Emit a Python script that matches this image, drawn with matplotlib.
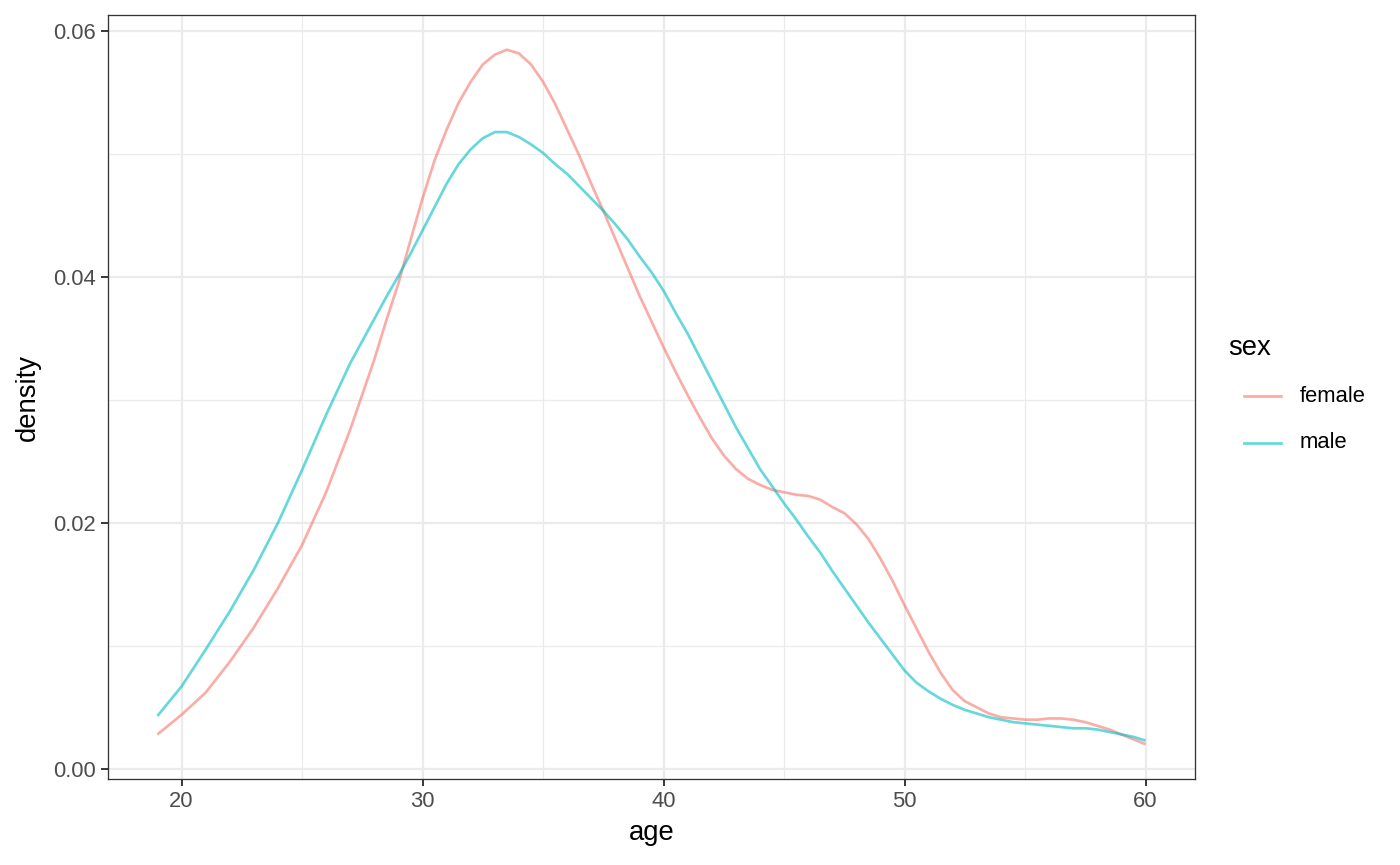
import matplotlib
matplotlib.use("Agg")
import matplotlib.pyplot as plt
from matplotlib.lines import Line2D

plt.rcParams['font.family'] = ['Liberation Sans', 'DejaVu Sans']

# ---- data ----
female_age = [19, 20, 21, 22, 23, 24, 25, 26, 27, 28, 28.5, 29, 29.5, 30, 30.5, 31, 31.5, 32, 32.5,
              33, 33.5, 34, 34.5, 35, 35.5, 36, 36.5, 37, 37.5, 38, 38.5, 39, 39.5, 40, 40.5, 41,
              41.5, 42, 42.5, 43, 43.5, 44, 44.5, 45, 45.5, 46, 46.5, 47, 47.5, 48, 48.5, 49, 49.5,
              50, 50.5, 51, 51.5, 52, 52.5, 53, 53.5, 54, 54.5, 55, 55.5, 56, 56.5, 57, 57.5, 58,
              58.5, 59, 59.5, 60]
female_density = [0.0028, 0.0044, 0.0062, 0.0087, 0.0115, 0.0147, 0.0182, 0.0225, 0.0276, 0.0333,
                  0.0365, 0.0395, 0.0430, 0.0464, 0.0495, 0.0520, 0.0542, 0.0559, 0.0573,
                  0.0581, 0.0585, 0.0582, 0.0573, 0.0559, 0.0541, 0.0520, 0.0499, 0.0476, 0.0454,
                  0.0431, 0.0408, 0.0385, 0.0364, 0.0343, 0.0323, 0.0304, 0.0286, 0.0269, 0.0255,
                  0.0244, 0.0236, 0.0231, 0.0227, 0.0225, 0.0223, 0.0222, 0.0219, 0.0213, 0.0208,
                  0.0199, 0.0187, 0.0171, 0.0153, 0.0133, 0.0114, 0.0095, 0.0078, 0.0064, 0.0055,
                  0.0050, 0.0045, 0.0042, 0.0041, 0.0040, 0.0040, 0.0041, 0.0041, 0.0040, 0.0038,
                  0.0035, 0.0032, 0.0028, 0.0024, 0.0020]
male_age = [19, 20, 21, 22, 23, 24, 25, 26, 27, 28, 28.5, 29, 29.5, 30, 30.5, 31, 31.5, 32, 32.5,
            33, 33.5, 34, 34.5, 35, 35.5, 36, 36.5, 37, 37.5, 38, 38.5, 39, 39.5, 40, 40.5, 41,
            41.5, 42, 42.5, 43, 43.5, 44, 44.5, 45, 45.5, 46, 46.5, 47, 47.5, 48, 48.5, 49, 49.5,
            50, 50.5, 51, 51.5, 52, 52.5, 53, 53.5, 54, 54.5, 55, 55.5, 56, 56.5, 57, 57.5, 58,
            58.5, 59, 59.5, 60]
male_density = [0.0043, 0.0067, 0.0097, 0.0128, 0.0162, 0.0200, 0.0243, 0.0288, 0.0330, 0.0366,
                0.0384, 0.0401, 0.0419, 0.0438, 0.0457, 0.0476, 0.0492, 0.0504, 0.0513,
                0.0518, 0.0518, 0.0514, 0.0508, 0.0501, 0.0492, 0.0484, 0.0474, 0.0464, 0.0454,
                0.0443, 0.0431, 0.0417, 0.0404, 0.0389, 0.0371, 0.0354, 0.0335, 0.0316, 0.0297,
                0.0278, 0.0261, 0.0244, 0.0230, 0.0216, 0.0203, 0.0189, 0.0176, 0.0161, 0.0147,
                0.0133, 0.0119, 0.0106, 0.0093, 0.0080, 0.0070, 0.0063, 0.0057, 0.0052, 0.0048,
                0.0045, 0.0042, 0.0040, 0.0038, 0.0037, 0.0036, 0.0035, 0.0034, 0.0033, 0.0033,
                0.0032, 0.0030, 0.0028, 0.0026, 0.0023]
series_names = ["female", "male"]
series_colors = ["#F8766D", "#00BFC4"]
x_ticks = [20, 30, 40, 50, 60]
x_minor = [25, 35, 45, 55]
y_ticks = [0.00, 0.02, 0.04, 0.06]
y_minor = [0.01, 0.03, 0.05]
y_tick_labels = ["0.00", "0.02", "0.04", "0.06"]

# ---- figure ----
W, H = 1400, 865
fig = plt.figure(figsize=(W / 100, H / 100), dpi=100)
L, R, T, B = 108, 1195, 15, 779
ax = fig.add_axes([L / W, 1 - B / H, (R - L) / W, (B - T) / H])

PX = 100 / 72  # px per point
lw_line = 2.7 / PX
lw_major = 2.2 / PX
lw_minor = 1.2 / PX

ALPHA = 0.6
ax.plot(female_age, female_density, color=series_colors[0], lw=lw_line, alpha=ALPHA,
        solid_capstyle='butt', solid_joinstyle='round', zorder=3)
ax.plot(male_age, male_density, color=series_colors[1], lw=lw_line, alpha=ALPHA,
        solid_capstyle='butt', solid_joinstyle='round', zorder=3)

allx = female_age + male_age
ally = female_density + male_density
xmin, xmax = min(allx), max(allx)
ymin, ymax = min(ally), max(ally)
dx = (xmax - xmin) * 0.05
dy = (ymax - ymin) * 0.05
ax.set_xlim(xmin - dx, xmax + dx)
ax.set_ylim(ymin - dy, ymax + dy)

for v in x_minor:
    ax.axvline(v, color="#EBEBEB", lw=lw_minor, zorder=1)
for v in y_minor:
    ax.axhline(v, color="#EBEBEB", lw=lw_minor, zorder=1)
for v in x_ticks:
    ax.axvline(v, color="#EBEBEB", lw=lw_major, zorder=1)
for v in y_ticks:
    ax.axhline(v, color="#EBEBEB", lw=lw_major, zorder=1)

ax.set_xticks(x_ticks)
ax.set_xticklabels([str(t) for t in x_ticks])
ax.set_yticks(y_ticks)
ax.set_yticklabels(y_tick_labels)
ax.tick_params(axis='both', length=6.9 / PX, width=1.9 / PX, color="#333333",
               labelsize=15.8, labelcolor="#4D4D4D", pad=3.5)
for s in ax.spines.values():
    s.set_color("#333333")
    s.set_linewidth(1.3 / PX)
    s.set_zorder(5)

ax.set_xlabel("age", fontsize=19.8, color="black", labelpad=6)
ax.set_ylabel("density", fontsize=19.8, color="black", labelpad=9)

# ---- legend ----
fig.text(1228 / W, 1 - 348 / H, "sex", fontsize=19.8, ha="left", va="center")
leg_y = [396, 443]
for name, col, yy in zip(series_names, series_colors, leg_y):
    fig.add_artist(Line2D([1244 / W, 1281 / W], [1 - yy / H, 1 - yy / H],
                          transform=fig.transFigure, color=col, lw=lw_line, alpha=ALPHA))
    fig.text(1300 / W, 1 - yy / H, name, fontsize=15.8, ha="left", va="center")

fig.savefig("out.png", dpi=100)
